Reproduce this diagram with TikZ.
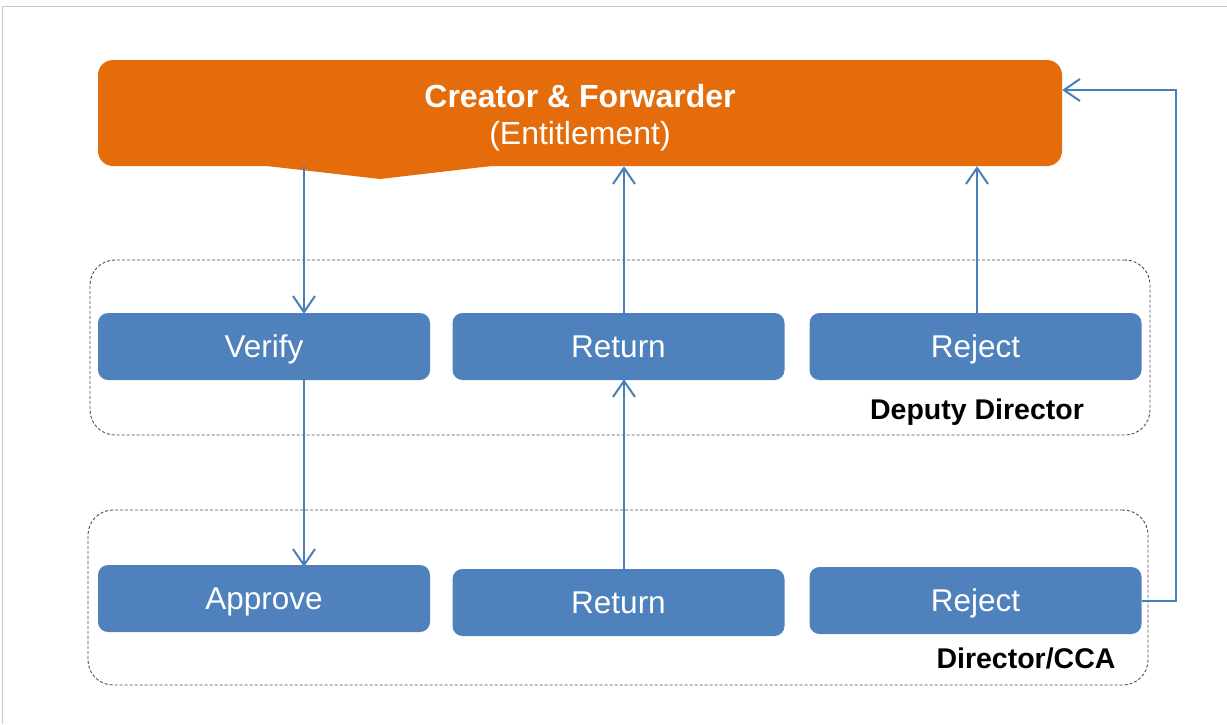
\documentclass[tikz,border=0pt]{standalone}
\usepackage{fontspec}
\setmainfont{Liberation Sans}
\usetikzlibrary{arrows.meta}
\definecolor{boxblue}{HTML}{4F81BD}
\definecolor{arrblue}{HTML}{4A7EBB}
\definecolor{orangefill}{HTML}{E46C0A}
\definecolor{framegray}{HTML}{C8C8C8}
\tikzset{
  bluebox/.style={rectangle, rounded corners=10pt, fill=boxblue, text=white,
    minimum width=332pt, minimum height=67pt, inner sep=0pt,
    text height=26pt, text depth=4pt,
    font=\fontsize{31.5}{36}\selectfont},
  groupbox/.style={rectangle, rounded corners=25pt, draw=black!70, line width=0.9pt,
    dash pattern=on 3pt off 2pt, minimum width=1060pt, minimum height=175pt, inner sep=0pt},
  grouplabel/.style={font=\fontsize{28.5}{34}\selectfont\bfseries, inner sep=0pt},
  flow/.style={draw=arrblue, line width=2pt,
    -{Straight Barb[length=16pt,width=22pt,line width=2pt]}},
}
\begin{document}
\begin{tikzpicture}[x=1pt,y=-1pt]
\useasboundingbox (0,0) rectangle (1227,724);
% frame
\draw[framegray, line width=1pt] (2,724) -- (2,6) -- (1227,6);
% group boxes
\node[groupbox] (ddgroup) at (620,347.5) {};
\node[groupbox] (dirgroup) at (618,597.5) {};
% creator
\node[rectangle, rounded corners=15pt, fill=orangefill,
  minimum width=964pt, minimum height=106pt, inner sep=0pt] (creator) at (580,113) {};
\fill[orangefill] (258,165) -- (380,179) -- (500,165) -- cycle;
\node[text=white, align=center, inner sep=0pt, font=\fontsize{32}{37}\selectfont]
  (creatortext) at ([yshift=-5pt]creator.center)
  {\textbf{Creator \& Forwarder}\\(Entitlement)};
% boxes
\node[bluebox] (verify) at (264,346.5) {Verify};
\node[bluebox] (returnA) at (618.5,346.5) {Return};
\node[bluebox] (rejectA) at (975.5,346.5) {Reject};
\node[bluebox] (approve) at (264,598.5) {Approve};
\node[bluebox] (returnB) at (618.5,602.5) {Return};
\node[bluebox] (rejectB) at (975.5,600.5) {Reject};
% labels
\node[grouplabel] (ddlabel) at (977,412) {Deputy Director};
\node[grouplabel] (dirlabel) at (1026,658) {Director/CCA};
% guide coordinates
\coordinate (xa) at (304,0);
\coordinate (xb) at (624,0);
\coordinate (xc) at (977,0);
\coordinate (corner) at (1176,90);
% connectors
\draw[flow] (creator.south -| xa) -- ([yshift=-1pt]verify.north -| xa);
\draw[flow] (verify.south -| xa) -- ([yshift=-2pt]approve.north -| xa);
\draw[flow] (returnB.north -| xb) -- ([yshift=1pt]returnA.south -| xb);
\draw[flow] (returnA.north -| xb) -- (creator.south -| xb);
\draw[flow] (rejectA.north -| xc) -- (creator.south -| xc);
\draw[flow] (rejectB.east) -| (corner) -- (creator.east |- corner);
\end{tikzpicture}
\end{document}
